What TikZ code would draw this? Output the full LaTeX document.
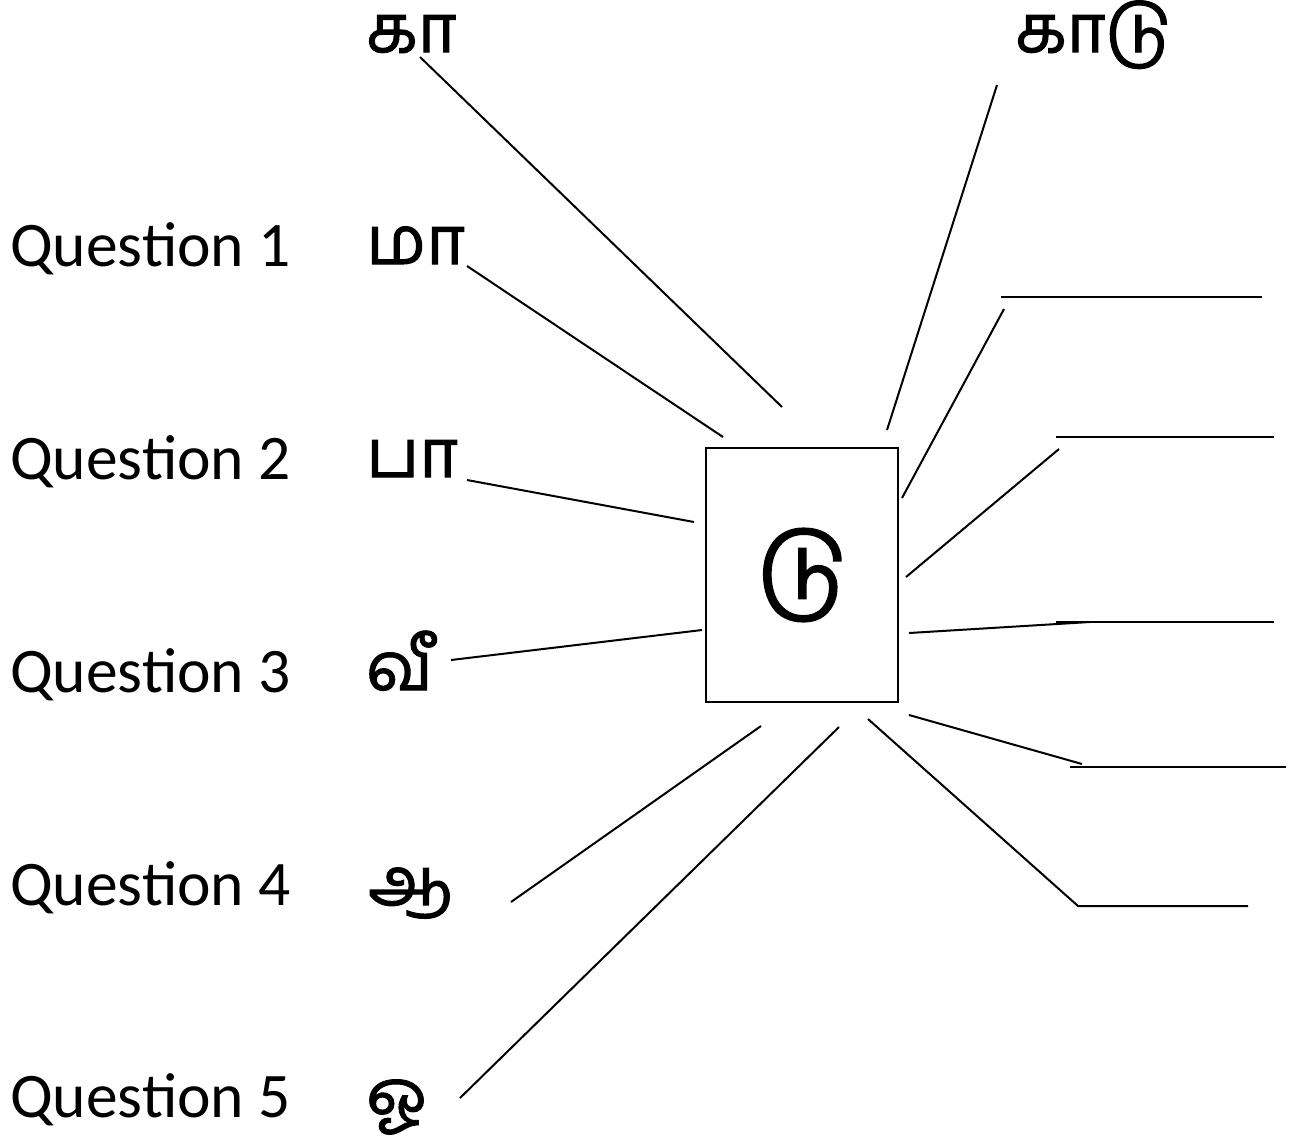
\documentclass[tikz,border=0pt]{standalone}
\usepackage{fontspec}
\setmainfont{Carlito}
\newfontfamily\tamil[Script=Tamil,FakeBold=1.5]{Hind Madurai}
\begin{document}
\begin{tikzpicture}[x=1pt,y=-1pt,
  q/.style={anchor=base west,inner sep=0pt,font=\fontsize{63.5}{70}\selectfont},
  ta/.style={anchor=base west,inner sep=0pt,font=\tamil\fontsize{67}{70}\selectfont},
  ln/.style={line width=2pt,line cap=butt}]
\useasboundingbox (0,0) rectangle (1298,1144);
% question labels
\node[q] (q1) at (10,266) {Question 1};
\node[q] (q2) at (10,479) {Question 2};
\node[q] (q3) at (10,692) {Question 3};
\node[q] (q4) at (10,905) {Question 4};
\node[q] (q5) at (10,1117) {Question 5};
% tamil syllables
\node[ta] (ka) at (366,52) {கா};
\node[ta] (ma) at (366,264) {மா};
\node[ta] (pa) at (366,477) {பா};
\node[ta] (vi) at (366,690) {வீ};
\node[ta] (aa) at (368,905) {ஆ};
\node[ta] (oo) at (366,1117) {ஓ};
\node[ta] (kadu) at (1015,52) {காடு};
% central box
\node[draw,line width=2pt,minimum width=192pt,minimum height=254pt,inner sep=0pt,
  font=\tamil\fontsize{92}{96}\selectfont] (box) at (802,575) {டு};
% connector end points
\coordinate (ka1) at (420,57);   \coordinate (ka2) at (782,407);
\coordinate (ma1) at (467,266);  \coordinate (ma2) at (723,437);
\coordinate (pa1) at (467,480);  \coordinate (pa2) at (694,522);
\coordinate (vi1) at (451,660);  \coordinate (vi2) at (702,630);
\coordinate (aa1) at (511,902);  \coordinate (aa2) at (761,726);
\coordinate (oo1) at (460,1098); \coordinate (oo2) at (839,727);
\coordinate (kd1) at (997,85);   \coordinate (kd2) at (887,430);
\coordinate (r1a) at (902,498);  \coordinate (r1b) at (1004,309);
\coordinate (r1c) at (1001,297); \coordinate (r1d) at (1262,297);
\coordinate (r2a) at (906,577);  \coordinate (r2b) at (1059,449);
\coordinate (r2c) at (1056,437); \coordinate (r2d) at (1274,437);
\coordinate (r3a) at (909,633);  \coordinate (r3b) at (1090,622);
\coordinate (r3c) at (1056,622); \coordinate (r3d) at (1274,622);
\coordinate (r4a) at (909,715);  \coordinate (r4b) at (1082,764);
\coordinate (r4c) at (1070,767); \coordinate (r4d) at (1286,767);
\coordinate (r5a) at (868,719);  \coordinate (r5b) at (1078,906);
\coordinate (r5d) at (1248,906);
% connectors
\draw[ln] (ka1) -- (ka2);
\draw[ln] (ma1) -- (ma2);
\draw[ln] (pa1) -- (pa2);
\draw[ln] (vi1) -- (vi2);
\draw[ln] (aa1) -- (aa2);
\draw[ln] (oo1) -- (oo2);
\draw[ln] (kd1) -- (kd2);
\draw[ln] (r1a) -- (r1b); \draw[ln] (r1c) -- (r1d);
\draw[ln] (r2a) -- (r2b); \draw[ln] (r2c) -- (r2d);
\draw[ln] (r3a) -- (r3b); \draw[ln] (r3c) -- (r3d);
\draw[ln] (r4a) -- (r4b); \draw[ln] (r4c) -- (r4d);
\draw[ln] (r5a) -- (r5b) -- (r5d);
\end{tikzpicture}
\end{document}
